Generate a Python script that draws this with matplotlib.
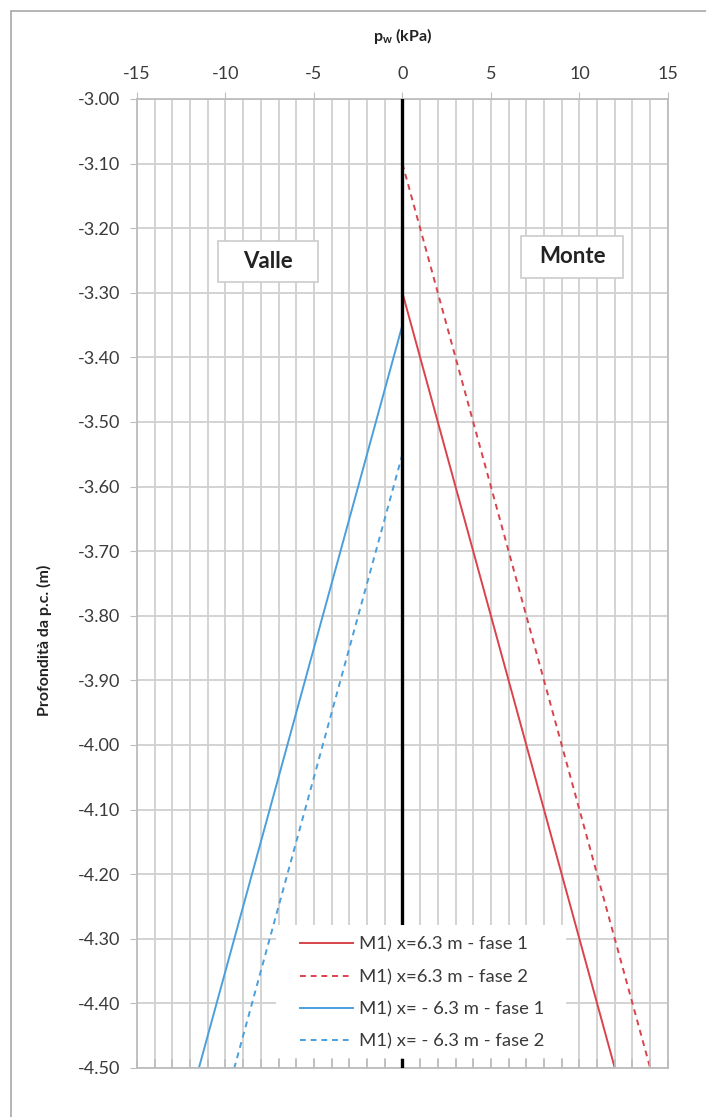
import matplotlib.pyplot as plt
import matplotlib.patches as mpatches
import numpy as np

plt.rcParams['font.family'] = ['Lato', 'DejaVu Sans']
plt.rcParams['axes.unicode_minus'] = False

# depth (m) / pressure (kPa) end points of each profile
depth_m1_f1 = [-3.30, -4.50]
pw_m1_f1 = [0, 12]
depth_m1_f2 = [-3.10, -4.50]
pw_m1_f2 = [0, 14]
depth_m1n_f1 = [-3.35, -4.50]
pw_m1n_f1 = [0, -11.5]
depth_m1n_f2 = [-3.55, -4.50]
pw_m1n_f2 = [0, -9.5]

labels = ['M1) x=6.3 m - fase 1', 'M1) x=6.3 m - fase 2',
          'M1) x= - 6.3 m - fase 1', 'M1) x= - 6.3 m - fase 2']

x_ticks = [-15, -10, -5, 0, 5, 10, 15]
y_ticks = np.round(np.arange(-3.0, -4.51, -0.1), 2)

RED = '#d9434b'
BLUE = '#4a9fdc'
GRID = '#d0d0d0'
SPINE = '#bdbdbd'
TXT = '#3a3a3a'

# legend box in axes fraction (x0, y0, x1, y1)
LEG_BOX = (0.262, 0.0103, 0.808, 0.1476)

fig = plt.figure(figsize=(7.06, 11.17), dpi=100)
ax = fig.add_axes([0.194, 0.0439, 0.752, 0.8675])

# page frame
fig.patches.append(mpatches.Rectangle((11 / 706, -0.1), 2, 1 - 11 / 1117 + 0.1,
                                      transform=fig.transFigure, fill=False,
                                      edgecolor='#a8a8a8', linewidth=1.2))

l1, = ax.plot(pw_m1_f1, depth_m1_f1, color=RED, lw=1.4)
l2, = ax.plot(pw_m1_f2, depth_m1_f2, color=RED, lw=1.4, ls=(0, (3, 2.5)))
l3, = ax.plot(pw_m1n_f1, depth_m1n_f1, color=BLUE, lw=1.4)
l4, = ax.plot(pw_m1n_f2, depth_m1n_f2, color=BLUE, lw=1.4, ls=(0, (3, 2.5)))

ax.set_xlim(-15, 15)
ax.set_ylim(-4.5, -3.0)
ymin, ymax = ax.get_ylim()

# zero line, interrupted by the legend box
y_leg_top = ymin + LEG_BOX[3] * (ymax - ymin)
ax.plot([0, 0], [ymax, y_leg_top], color='black', lw=2.4, zorder=3)

ax.xaxis.tick_top()
ax.xaxis.set_label_position('top')
ax.set_xticks(x_ticks)
ax.set_xticks(np.arange(-15, 16, 1), minor=True)
ax.set_yticks(y_ticks)
ax.set_yticklabels([f'{v:.2f}' for v in y_ticks])
ax.grid(True, which='both', color=GRID, lw=1.3)
ax.set_axisbelow(True)
ax.tick_params(axis='x', which='major', direction='out', length=5, color=SPINE,
               labelsize=13, labelcolor=TXT, pad=7)
ax.tick_params(axis='x', which='minor', length=0)
ax.tick_params(axis='y', direction='out', length=5, color=SPINE,
               labelsize=13, labelcolor=TXT, pad=7)
for s in ax.spines.values():
    s.set_color(SPINE)
    s.set_linewidth(1.3)

# white box behind the legend
ax.add_patch(mpatches.Rectangle((LEG_BOX[0], LEG_BOX[1]),
                                LEG_BOX[2] - LEG_BOX[0], LEG_BOX[3] - LEG_BOX[1],
                                transform=ax.transAxes, facecolor='white',
                                edgecolor='none', zorder=4))

# small inward ticks along the bottom edge
for xv in np.arange(-15, 16, 1):
    ax.plot([xv, xv], [ymin, ymin + 0.013], color=SPINE, lw=1.2, zorder=11,
            clip_on=False)
ax.plot([0, 0], [ymin, ymin + 0.013], color='black', lw=2.4, zorder=12)

ax.set_xlabel('p$_\\mathregular{w}$ (kPa)', fontsize=11.5, fontweight='bold',
              labelpad=18, color='#222222')
fig.text(44 / 706, 1 - 640 / 1117, 'Profondità da p.c. (m)', rotation=90,
         fontsize=11.5, fontweight='bold', ha='center', va='center',
         color='#222222')

# Valle / Monte label boxes
for x0, x1, y0, y1, txt in [(-10.4, -4.75, -3.220, -3.283, 'Valle'),
                            (6.72, 12.49, -3.212, -3.277, 'Monte')]:
    ax.add_patch(mpatches.Rectangle((x0, y1), x1 - x0, y0 - y1,
                                    facecolor='white', edgecolor='#cccccc',
                                    lw=1.2, zorder=5))
    ax.text((x0 + x1) / 2, (y0 + y1) / 2, txt, fontsize=16, fontweight='bold',
            ha='center', va='center', color='#222222', zorder=6)

leg = fig.legend([l1, l2, l3, l4], labels, loc='lower center',
                 bbox_to_anchor=(0.537, 0.0007), bbox_transform=ax.transAxes,
                 frameon=False, fontsize=13.3, handlelength=2.9,
                 labelspacing=0.88, handletextpad=0.3, borderpad=0.45)
for t in leg.get_texts():
    t.set_color(TXT)

fig.savefig('out.png', dpi=100, facecolor='white')
